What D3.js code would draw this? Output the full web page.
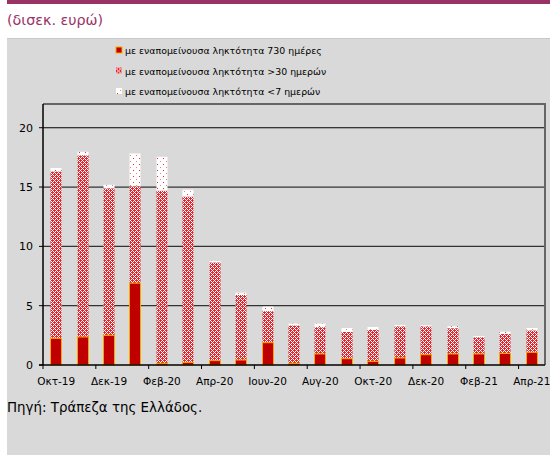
<!DOCTYPE html>
<html>
<head>
<meta charset="utf-8">
<script src="https://cdn.jsdelivr.net/npm/d3@7"></script>
<style>
  body { margin: 0; background: #fff; }
  svg { display: block; font-family: Tahoma, "DejaVu Sans", sans-serif; }
</style>
</head>
<body>
<svg id="chart" width="550" height="455"></svg>
<script>
// months, Oct-19 .. Apr-21
var months = ["Οκτ-19","Νοε-19","Δεκ-19","Ιαν-20","Φεβ-20","Μαρ-20","Απρ-20","Μαϊ-20","Ιουν-20","Ιουλ-20",
              "Αυγ-20","Σεπ-20","Οκτ-20","Νοε-20","Δεκ-20","Ιαν-21","Φεβ-21","Μαρ-21","Απρ-21"];
// tick labels shown every other month
var tickLabels = ["Οκτ-19","Δεκ-19","Φεβ-20","Απρ-20","Ιουν-20","Αυγ-20","Οκτ-20","Δεκ-20","Φεβ-21","Απρ-21"];

// billions of euro
var upTo30 = [2.25,2.36,2.5,6.9,0.14,0.22,0.37,0.42,1.88,0.14,0.93,0.53,0.31,0.59,0.87,0.93,0.93,0.98,1.07];
var over30 = [14.05,15.3,12.38,8.15,14.54,13.96,8.26,5.48,2.65,3.18,2.25,2.25,2.64,2.64,2.36,2.16,1.4,1.63,1.83];
var under7 = [0.3,0.31,0.31,2.78,2.87,0.59,0.15,0.2,0.39,0.17,0.31,0.34,0.25,0.15,0.12,0.17,0.11,0.2,0.22];

var legendLabels = ["με εναπομείνουσα ληκτότητα 730 ημέρες",
                    "με εναπομείνουσα ληκτότητα >30 ημερών",
                    "με εναπομείνουσα ληκτότητα <7 ημερών"];
var yTicks = [0,5,10,15,20];

var svg = d3.select("#chart");
var defs = svg.append("defs");

// dense red/white diagonal check
var p1 = defs.append("pattern").attr("id","hatch").attr("patternUnits","userSpaceOnUse")
  .attr("width",4).attr("height",4);
p1.append("rect").attr("width",4).attr("height",4).attr("fill","#fff");
var hatchRows = ["RRWR","RWRW","WRRR","RWRW"];
hatchRows.forEach(function(row, yy){
  row.split("").forEach(function(c, xx){
    if (c == "R") p1.append("rect").attr("x",xx).attr("y",yy).attr("width",1).attr("height",1).attr("fill","#e3262e");
  });
});
// white with sparse red dots
var p2 = defs.append("pattern").attr("id","dots").attr("patternUnits","userSpaceOnUse")
  .attr("width",6).attr("height",6);
p2.append("rect").attr("width",6).attr("height",6).attr("fill","#fff");
p2.append("rect").attr("x",1).attr("y",2).attr("width",1).attr("height",1).attr("fill","#e8303a");
p2.append("rect").attr("x",4).attr("y",5).attr("width",1).attr("height",1).attr("fill","#f08080");

// frame
svg.append("rect").attr("x",7).attr("y",0).attr("width",543).attr("height",4).attr("fill","#993366");
svg.append("text").attr("x",7).attr("y",25).attr("fill","#993366").style("font-size","14.3px").text("(δισεκ. ευρώ)");
svg.append("rect").attr("x",7).attr("y",39).attr("width",543).attr("height",416).attr("fill","#d9d9d9");
svg.append("rect").attr("x",7).attr("y",38).attr("width",543).attr("height",1).attr("fill","#c8c8c8");

var pLeft = 43, pRight = 545, pTop = 104, pBottom = 365;
var xb = d3.scaleBand().domain(months).range([pLeft, pRight]);
var y = d3.scaleLinear().domain([0, 22]).range([pBottom, pTop]);

// grid
svg.append("g").selectAll("line").data(yTicks.slice(1)).join("line")
  .attr("x1",pLeft).attr("x2",pRight).attr("y1",d=>y(d)).attr("y2",d=>y(d))
  .attr("stroke",function(d){ return d==20 ? "#000" : "#333"; }).attr("stroke-width",1.2);

// plot box
svg.append("path").attr("d","M"+pLeft+","+pTop+"H"+pRight+"V"+pBottom)
  .attr("fill","none").attr("stroke","#666").attr("stroke-width",2);

// bars
var stacked = months.map(function(m,i){
  var a = upTo30[i], b = a + over30[i], c = b + under7[i];
  return {m:m, segs:[[b,c,"url(#dots)"],[a,b,"url(#hatch)"],[0,a,"#c00000"]]};
});
var bw = 11;
var g = svg.append("g");
stacked.forEach(function(d){
  var cx = Math.round(xb(d.m) + xb.bandwidth()/2);
  d.segs.forEach(function(s,k){
    g.append("rect").attr("x",cx-bw/2).attr("width",bw)
      .attr("y",y(s[1])).attr("height",Math.max(0,y(s[0])-y(s[1])))
      .attr("fill",s[2])
      .attr("stroke",k==2 ? "#f5a800" : "none").attr("stroke-width",k==2 ? 1 : 0);
  });
});

// axes
var xAxis = svg.append("g").attr("transform","translate(0,"+pBottom+")");
xAxis.append("line").attr("x1",pLeft-4).attr("x2",pRight).attr("stroke","#000").attr("stroke-width",1.5);
var tickPos = d3.range(0, months.length+1, 2).map(function(i){ return pLeft + i*xb.step(); });
xAxis.selectAll(".t").data(tickPos).join("line").attr("class","t")
  .attr("x1",d=>d).attr("x2",d=>d).attr("y1",0).attr("y2",4).attr("stroke","#000");
xAxis.selectAll("text").data(tickLabels).join("text")
  .attr("x",d=>xb(d)+xb.bandwidth()/2).attr("y",20).attr("text-anchor","middle")
  .style("font-size","10.5px").attr("fill","#000").text(d=>d);

var yAxis = svg.append("g");
yAxis.append("line").attr("x1",pLeft).attr("x2",pLeft).attr("y1",pTop).attr("y2",pBottom).attr("stroke","#000").attr("stroke-width",1.5);
yAxis.selectAll(".t").data(yTicks).join("line").attr("class","t")
  .attr("x1",pLeft-4).attr("x2",pLeft).attr("y1",d=>y(d)).attr("y2",d=>y(d)).attr("stroke","#000");
yAxis.selectAll("text").data(yTicks).join("text")
  .attr("x",33).attr("y",d=>y(d)+4).attr("text-anchor","end")
  .style("font-size","11px").attr("fill","#000").text(d=>d);

// legend
var fills = ["#c00000","url(#hatch)","url(#dots)"];
var lg = svg.append("g").selectAll("g").data(legendLabels).join("g")
  .attr("transform",function(d,i){ return "translate(116,"+(50+i*20.5)+")"; });
lg.append("rect").attr("x",0).attr("y",-3).attr("width",6).attr("height",6)
  .attr("fill",(d,i)=>fills[i]).attr("stroke",(d,i)=>i==0 ? "#f5a800" : "none");
lg.append("text").attr("x",9).attr("y",4).style("font-size","9.4px").attr("fill","#000").text(d=>d);

svg.append("text").attr("x",7).attr("y",412).style("font-size","13.4px").attr("fill","#000")
  .text("Πηγή: Τράπεζα της Ελλάδος.");
</script>
</body>
</html>
